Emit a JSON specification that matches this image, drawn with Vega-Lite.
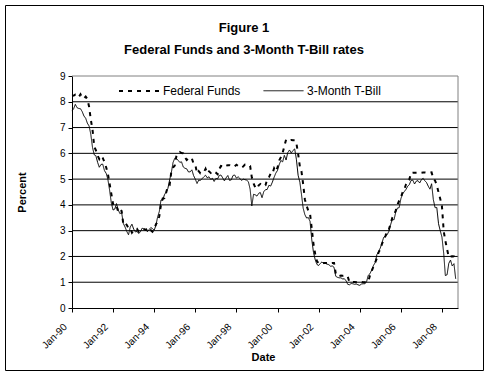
{
"$schema":"https://vega.github.io/schema/vega-lite/v6.json",
"width":478,"height":365,"autosize":{"type":"none"},"padding":5,"background":"white",
"config":{"view":{"stroke":"black","strokeWidth":1},"font":"Arial","axis":{"labelFont":"Arial","titleFont":"Arial","labelColor":"black","titleColor":"black","domainColor":"black","tickColor":"black"}},
"title":{"text":"Figure 1","subtitle":"Federal Funds and 3-Month T-Bill rates","anchor":"middle","frame":"group","offset":-52,"font":"Arial","fontSize":13,"fontWeight":"bold","color":"black","subtitleFont":"Arial","subtitleFontSize":13,"subtitleFontWeight":"bold","subtitleColor":"black","subtitlePadding":9},
"datasets":{
"rates":[
{"d":"1990-01-01","f":8.23,"t":7.64},{"d":"1990-02-01","f":8.24,"t":7.74},{"d":"1990-03-01","f":8.28,"t":7.90},{"d":"1990-04-01","f":8.26,"t":7.77},{"d":"1990-05-01","f":8.18,"t":7.74},{"d":"1990-06-01","f":8.29,"t":7.73},{"d":"1990-07-01","f":8.15,"t":7.62},{"d":"1990-08-01","f":8.13,"t":7.45},{"d":"1990-09-01","f":8.20,"t":7.36},{"d":"1990-10-01","f":8.11,"t":7.17},{"d":"1990-11-01","f":7.81,"t":7.06},{"d":"1990-12-01","f":7.31,"t":6.74},
{"d":"1991-01-01","f":6.91,"t":6.22},{"d":"1991-02-01","f":6.25,"t":5.94},{"d":"1991-03-01","f":6.12,"t":5.91},{"d":"1991-04-01","f":5.91,"t":5.65},{"d":"1991-05-01","f":5.78,"t":5.46},{"d":"1991-06-01","f":5.90,"t":5.57},{"d":"1991-07-01","f":5.82,"t":5.58},{"d":"1991-08-01","f":5.66,"t":5.33},{"d":"1991-09-01","f":5.45,"t":5.22},{"d":"1991-10-01","f":5.21,"t":4.99},{"d":"1991-11-01","f":4.81,"t":4.56},{"d":"1991-12-01","f":4.43,"t":4.07},
{"d":"1992-01-01","f":4.03,"t":3.80},{"d":"1992-02-01","f":4.06,"t":3.84},{"d":"1992-03-01","f":3.98,"t":4.05},{"d":"1992-04-01","f":3.73,"t":3.81},{"d":"1992-05-01","f":3.82,"t":3.66},{"d":"1992-06-01","f":3.76,"t":3.70},{"d":"1992-07-01","f":3.25,"t":3.28},{"d":"1992-08-01","f":3.30,"t":3.14},{"d":"1992-09-01","f":3.22,"t":2.97},{"d":"1992-10-01","f":3.10,"t":2.84},{"d":"1992-11-01","f":3.09,"t":3.14},{"d":"1992-12-01","f":2.92,"t":3.25},
{"d":"1993-01-01","f":3.02,"t":3.06},{"d":"1993-02-01","f":3.03,"t":2.95},{"d":"1993-03-01","f":3.07,"t":2.97},{"d":"1993-04-01","f":2.96,"t":2.89},{"d":"1993-05-01","f":3.00,"t":2.96},{"d":"1993-06-01","f":3.04,"t":3.10},{"d":"1993-07-01","f":3.06,"t":3.05},{"d":"1993-08-01","f":3.03,"t":3.05},{"d":"1993-09-01","f":3.09,"t":2.96},{"d":"1993-10-01","f":2.99,"t":3.04},{"d":"1993-11-01","f":3.02,"t":3.12},{"d":"1993-12-01","f":2.96,"t":3.08},
{"d":"1994-01-01","f":3.05,"t":3.02},{"d":"1994-02-01","f":3.25,"t":3.21},{"d":"1994-03-01","f":3.34,"t":3.52},{"d":"1994-04-01","f":3.56,"t":3.74},{"d":"1994-05-01","f":4.01,"t":4.19},{"d":"1994-06-01","f":4.25,"t":4.18},{"d":"1994-07-01","f":4.26,"t":4.39},{"d":"1994-08-01","f":4.47,"t":4.50},{"d":"1994-09-01","f":4.73,"t":4.64},{"d":"1994-10-01","f":4.76,"t":4.96},{"d":"1994-11-01","f":5.29,"t":5.25},{"d":"1994-12-01","f":5.45,"t":5.64},
{"d":"1995-01-01","f":5.53,"t":5.81},{"d":"1995-02-01","f":5.92,"t":5.80},{"d":"1995-03-01","f":5.98,"t":5.73},{"d":"1995-04-01","f":6.05,"t":5.65},{"d":"1995-05-01","f":6.01,"t":5.67},{"d":"1995-06-01","f":6.00,"t":5.47},{"d":"1995-07-01","f":5.85,"t":5.42},{"d":"1995-08-01","f":5.74,"t":5.40},{"d":"1995-09-01","f":5.80,"t":5.28},{"d":"1995-10-01","f":5.76,"t":5.28},{"d":"1995-11-01","f":5.80,"t":5.36},{"d":"1995-12-01","f":5.60,"t":5.14},
{"d":"1996-01-01","f":5.56,"t":5.00},{"d":"1996-02-01","f":5.22,"t":4.83},{"d":"1996-03-01","f":5.31,"t":4.96},{"d":"1996-04-01","f":5.22,"t":4.95},{"d":"1996-05-01","f":5.24,"t":5.02},{"d":"1996-06-01","f":5.27,"t":5.09},{"d":"1996-07-01","f":5.40,"t":5.15},{"d":"1996-08-01","f":5.22,"t":5.05},{"d":"1996-09-01","f":5.30,"t":5.09},{"d":"1996-10-01","f":5.24,"t":4.99},{"d":"1996-11-01","f":5.31,"t":5.03},{"d":"1996-12-01","f":5.29,"t":4.91},
{"d":"1997-01-01","f":5.25,"t":5.03},{"d":"1997-02-01","f":5.19,"t":5.01},{"d":"1997-03-01","f":5.39,"t":5.14},{"d":"1997-04-01","f":5.51,"t":5.16},{"d":"1997-05-01","f":5.50,"t":5.05},{"d":"1997-06-01","f":5.56,"t":4.93},{"d":"1997-07-01","f":5.52,"t":5.05},{"d":"1997-08-01","f":5.54,"t":5.14},{"d":"1997-09-01","f":5.54,"t":4.95},{"d":"1997-10-01","f":5.50,"t":4.97},{"d":"1997-11-01","f":5.52,"t":5.14},{"d":"1997-12-01","f":5.50,"t":5.16},
{"d":"1998-01-01","f":5.56,"t":5.04},{"d":"1998-02-01","f":5.51,"t":5.09},{"d":"1998-03-01","f":5.49,"t":5.03},{"d":"1998-04-01","f":5.45,"t":4.95},{"d":"1998-05-01","f":5.49,"t":5.00},{"d":"1998-06-01","f":5.56,"t":4.98},{"d":"1998-07-01","f":5.54,"t":4.96},{"d":"1998-08-01","f":5.55,"t":4.90},{"d":"1998-09-01","f":5.51,"t":4.61},{"d":"1998-10-01","f":5.07,"t":3.96},{"d":"1998-11-01","f":4.83,"t":4.41},{"d":"1998-12-01","f":4.68,"t":4.39},
{"d":"1999-01-01","f":4.63,"t":4.34},{"d":"1999-02-01","f":4.76,"t":4.45},{"d":"1999-03-01","f":4.81,"t":4.48},{"d":"1999-04-01","f":4.74,"t":4.28},{"d":"1999-05-01","f":4.74,"t":4.51},{"d":"1999-06-01","f":4.76,"t":4.59},{"d":"1999-07-01","f":4.99,"t":4.60},{"d":"1999-08-01","f":5.07,"t":4.76},{"d":"1999-09-01","f":5.22,"t":4.73},{"d":"1999-10-01","f":5.20,"t":4.88},{"d":"1999-11-01","f":5.42,"t":5.07},{"d":"1999-12-01","f":5.30,"t":5.23},
{"d":"2000-01-01","f":5.45,"t":5.34},{"d":"2000-02-01","f":5.73,"t":5.57},{"d":"2000-03-01","f":5.85,"t":5.72},{"d":"2000-04-01","f":6.02,"t":5.67},{"d":"2000-05-01","f":6.27,"t":5.92},{"d":"2000-06-01","f":6.53,"t":5.74},{"d":"2000-07-01","f":6.54,"t":6.03},{"d":"2000-08-01","f":6.50,"t":6.13},{"d":"2000-09-01","f":6.52,"t":6.01},{"d":"2000-10-01","f":6.51,"t":6.11},{"d":"2000-11-01","f":6.51,"t":6.17},{"d":"2000-12-01","f":6.40,"t":5.77},
{"d":"2001-01-01","f":5.98,"t":5.15},{"d":"2001-02-01","f":5.49,"t":4.88},{"d":"2001-03-01","f":5.31,"t":4.42},{"d":"2001-04-01","f":4.80,"t":3.87},{"d":"2001-05-01","f":4.21,"t":3.62},{"d":"2001-06-01","f":3.97,"t":3.49},{"d":"2001-07-01","f":3.77,"t":3.51},{"d":"2001-08-01","f":3.65,"t":3.36},{"d":"2001-09-01","f":3.07,"t":2.64},{"d":"2001-10-01","f":2.49,"t":2.16},{"d":"2001-11-01","f":2.09,"t":1.87},{"d":"2001-12-01","f":1.82,"t":1.69},
{"d":"2002-01-01","f":1.73,"t":1.65},{"d":"2002-02-01","f":1.74,"t":1.73},{"d":"2002-03-01","f":1.73,"t":1.79},{"d":"2002-04-01","f":1.75,"t":1.72},{"d":"2002-05-01","f":1.75,"t":1.73},{"d":"2002-06-01","f":1.75,"t":1.70},{"d":"2002-07-01","f":1.73,"t":1.68},{"d":"2002-08-01","f":1.74,"t":1.62},{"d":"2002-09-01","f":1.75,"t":1.63},{"d":"2002-10-01","f":1.75,"t":1.58},{"d":"2002-11-01","f":1.34,"t":1.23},{"d":"2002-12-01","f":1.24,"t":1.19},
{"d":"2003-01-01","f":1.24,"t":1.17},{"d":"2003-02-01","f":1.26,"t":1.17},{"d":"2003-03-01","f":1.25,"t":1.13},{"d":"2003-04-01","f":1.26,"t":1.13},{"d":"2003-05-01","f":1.26,"t":1.07},{"d":"2003-06-01","f":1.22,"t":0.92},{"d":"2003-07-01","f":1.01,"t":0.90},{"d":"2003-08-01","f":1.03,"t":0.95},{"d":"2003-09-01","f":1.01,"t":0.94},{"d":"2003-10-01","f":1.01,"t":0.92},{"d":"2003-11-01","f":1.00,"t":0.93},{"d":"2003-12-01","f":0.98,"t":0.90},
{"d":"2004-01-01","f":1.00,"t":0.88},{"d":"2004-02-01","f":1.01,"t":0.93},{"d":"2004-03-01","f":1.00,"t":0.94},{"d":"2004-04-01","f":1.00,"t":0.94},{"d":"2004-05-01","f":1.00,"t":1.02},{"d":"2004-06-01","f":1.03,"t":1.27},{"d":"2004-07-01","f":1.26,"t":1.33},{"d":"2004-08-01","f":1.43,"t":1.48},{"d":"2004-09-01","f":1.61,"t":1.65},{"d":"2004-10-01","f":1.76,"t":1.76},{"d":"2004-11-01","f":1.93,"t":2.07},{"d":"2004-12-01","f":2.16,"t":2.19},
{"d":"2005-01-01","f":2.28,"t":2.33},{"d":"2005-02-01","f":2.50,"t":2.54},{"d":"2005-03-01","f":2.63,"t":2.74},{"d":"2005-04-01","f":2.79,"t":2.78},{"d":"2005-05-01","f":3.00,"t":2.84},{"d":"2005-06-01","f":3.04,"t":2.97},{"d":"2005-07-01","f":3.26,"t":3.22},{"d":"2005-08-01","f":3.50,"t":3.44},{"d":"2005-09-01","f":3.62,"t":3.42},{"d":"2005-10-01","f":3.78,"t":3.71},{"d":"2005-11-01","f":4.00,"t":3.88},{"d":"2005-12-01","f":4.16,"t":3.89},
{"d":"2006-01-01","f":4.29,"t":4.24},{"d":"2006-02-01","f":4.49,"t":4.43},{"d":"2006-03-01","f":4.59,"t":4.51},{"d":"2006-04-01","f":4.79,"t":4.60},{"d":"2006-05-01","f":4.94,"t":4.72},{"d":"2006-06-01","f":4.99,"t":4.79},{"d":"2006-07-01","f":5.24,"t":4.95},{"d":"2006-08-01","f":5.25,"t":4.96},{"d":"2006-09-01","f":5.25,"t":4.81},{"d":"2006-10-01","f":5.25,"t":4.92},{"d":"2006-11-01","f":5.25,"t":4.94},{"d":"2006-12-01","f":5.24,"t":4.85},
{"d":"2007-01-01","f":5.25,"t":4.98},{"d":"2007-02-01","f":5.26,"t":5.03},{"d":"2007-03-01","f":5.26,"t":4.94},{"d":"2007-04-01","f":5.25,"t":4.87},{"d":"2007-05-01","f":5.25,"t":4.73},{"d":"2007-06-01","f":5.25,"t":4.61},{"d":"2007-07-01","f":5.26,"t":4.82},{"d":"2007-08-01","f":5.02,"t":4.20},{"d":"2007-09-01","f":4.94,"t":3.89},{"d":"2007-10-01","f":4.76,"t":3.90},{"d":"2007-11-01","f":4.49,"t":3.27},{"d":"2007-12-01","f":4.24,"t":3.00},
{"d":"2008-01-01","f":3.94,"t":2.75},{"d":"2008-02-01","f":2.98,"t":2.12},{"d":"2008-03-01","f":2.61,"t":1.26},{"d":"2008-04-01","f":2.28,"t":1.29},{"d":"2008-05-01","f":1.98,"t":1.73},{"d":"2008-06-01","f":2.00,"t":1.86},{"d":"2008-07-01","f":2.01,"t":1.63},{"d":"2008-08-01","f":2.00,"t":1.72},{"d":"2008-09-01","f":1.81,"t":1.13}
],
"grid":[{"g":1},{"g":2},{"g":3},{"g":4},{"g":5},{"g":6},{"g":7},{"g":8}]
},
"layer":[
{"data":{"name":"grid"},"mark":{"type":"rule","color":"black","strokeWidth":1},
 "encoding":{"y":{"field":"g","type":"quantitative","scale":{"domain":[0,9],"range":[303,71],"nice":false,"zero":false}},
 "x":{"datum":{"year":1990,"month":1,"date":1,"utc":true},"type":"temporal","scale":{"type":"utc","domain":[{"year":1990,"month":1,"date":1,"utc":true},{"year":2008,"month":10,"date":12,"utc":true}],"range":[67,453]}},
 "x2":{"datum":{"year":2008,"month":10,"date":12,"utc":true}}}},
{"data":{"values":[{}]},"mark":{"type":"rule","color":"#808080","strokeWidth":1},
 "encoding":{"y":{"datum":9,"type":"quantitative","scale":{"domain":[0,9],"range":[303,71],"nice":false,"zero":false}},
 "x":{"datum":{"year":1990,"month":1,"date":1,"utc":true},"type":"temporal","scale":{"type":"utc","domain":[{"year":1990,"month":1,"date":1,"utc":true},{"year":2008,"month":10,"date":12,"utc":true}],"range":[67,453]}},
 "x2":{"datum":{"year":2008,"month":10,"date":12,"utc":true}}}},
{"data":{"values":[{}]},"mark":{"type":"rule","color":"#808080","strokeWidth":1},
 "encoding":{"x":{"datum":{"year":2008,"month":10,"date":12,"utc":true},"type":"temporal","scale":{"type":"utc","domain":[{"year":1990,"month":1,"date":1,"utc":true},{"year":2008,"month":10,"date":12,"utc":true}],"range":[67,453]}},
 "y":{"datum":0,"type":"quantitative","scale":{"domain":[0,9],"range":[303,71],"nice":false,"zero":false}},
 "y2":{"datum":9}}},
{"data":{"name":"rates"},"transform":[{"fold":["f","t"],"as":["s","v"]}],
 "mark":{"type":"line","color":"black","strokeCap":"butt"},
 "encoding":{
  "x":{"field":"d","type":"temporal","scale":{"type":"utc","domain":[{"year":1990,"month":1,"date":1,"utc":true},{"year":2008,"month":10,"date":12,"utc":true}],"range":[67,453]},
   "axis":{"title":"Date","format":"%b-%y","values":[{"year":1990,"month":1,"date":1,"utc":true},{"year":1992,"month":1,"date":1,"utc":true},{"year":1994,"month":1,"date":1,"utc":true},{"year":1996,"month":1,"date":1,"utc":true},{"year":1998,"month":1,"date":1,"utc":true},{"year":2000,"month":1,"date":1,"utc":true},{"year":2002,"month":1,"date":1,"utc":true},{"year":2004,"month":1,"date":1,"utc":true},{"year":2006,"month":1,"date":1,"utc":true},{"year":2008,"month":1,"date":1,"utc":true}],
   "labelAngle":-45,"labelAlign":"right","labelBaseline":"middle","labelFontSize":10,"labelColor":"black","labelPadding":13,"labelOffset":-7,"labelOverlap":false,"labelBound":false,"labelFlush":false,"tickSize":4,"grid":false,"offset":-62,"titleFontSize":11,"titleFontWeight":"bold","titleX":258,"titleY":49,"titleBaseline":"middle","titleAlign":"center"}},
  "y":{"field":"v","type":"quantitative","scale":{"domain":[0,9],"range":[303,71],"nice":false,"zero":false},
   "axis":{"title":"Percent","values":[0,1,2,3,4,5,6,7,8,9],"tickSize":4,"labelFontSize":10,"labelColor":"black","labelPadding":3,"grid":false,"offset":-67,"titleFontSize":11,"titleFontWeight":"bold","titleX":-50,"titleY":187,"titleBaseline":"middle","titleAlign":"center","titleAngle":-90}},
  "strokeDash":{"field":"s","type":"nominal","scale":{"domain":["f","t"],"range":[[4,5],[1,0]]},
   "legend":{"orient":"none","legendX":113,"legendY":65,"direction":"horizontal","title":null,"symbolType":"stroke","symbolSize":1600,"symbolStrokeColor":"black","labelFontSize":12,"labelFont":"Arial","labelColor":"black","labelOffset":3,"columnPadding":20,"padding":0,"labelExpr":"datum.label == 'f' ? 'Federal Funds' : '3-Month T-Bill'"}},
  "strokeWidth":{"field":"s","type":"nominal","scale":{"domain":["f","t"],"range":[2,1]},
   "legend":{"orient":"none","legendX":113,"legendY":65,"direction":"horizontal","title":null,"symbolType":"stroke","symbolSize":1600,"symbolStrokeColor":"black","labelFontSize":12,"labelFont":"Arial","labelColor":"black","labelOffset":3,"columnPadding":20,"padding":0,"labelExpr":"datum.label == 'f' ? 'Federal Funds' : '3-Month T-Bill'"}}
 }}
]
}
